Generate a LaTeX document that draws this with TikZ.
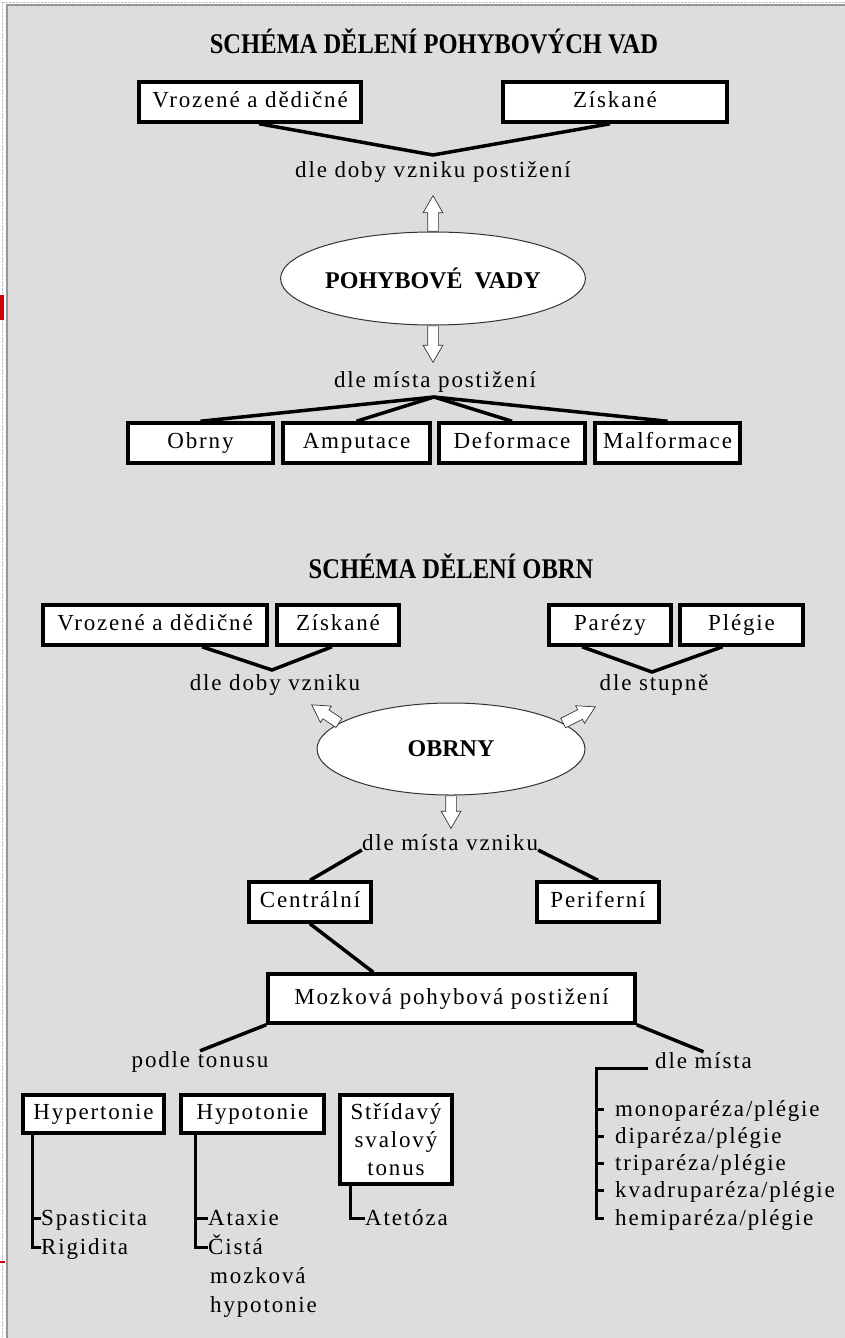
\documentclass[tikz,border=0pt]{standalone}
\usepackage{fontspec}
\setmainfont[LetterSpace=8]{Liberation Serif}
\newfontfamily\headfont{Liberation Serif}
\newfontfamily\titlefont[FakeStretch=0.86]{Liberation Serif}
\usetikzlibrary{calc,shapes.geometric,shapes.arrows}

\definecolor{panel}{RGB}{221,221,221}
\definecolor{frame}{RGB}{150,150,150}

\newcommand{\hollowarrow}[2]{%
    \path let \p1=($(#2)-(#1)$) in (#1)
        node[hollow, rotate={atan2(\y1,\x1)}, minimum height={veclen(\x1,\y1)}, anchor=tail] {};%
}

\begin{document}
\begin{tikzpicture}[x=1pt, y=-1pt, font=\fontsize{23}{28}\selectfont,
    box/.style={draw, line width=3.5pt, fill=white, inner sep=0pt, text height=16pt, text depth=5pt},
    tallbox/.style={draw, line width=3.5pt, fill=white, inner sep=0pt, align=center},
    blob/.style={ellipse, draw=black!80, line width=1pt, fill=white, inner sep=0pt,
        font=\headfont\bfseries\fontsize{24}{28}\selectfont},
    caption/.style={inner sep=0pt, anchor=base},
    title/.style={inner sep=0pt, anchor=base, font=\titlefont\bfseries\fontsize{28.5}{30}\selectfont},
    leaf/.style={inner sep=0pt, anchor=west, text height=17pt, text depth=3pt},
    link/.style={line width=3.5pt},
    stem/.style={line width=3pt},
    hollow/.style={single arrow, draw=black!80, fill=white, line width=0.7pt, inner sep=0pt,
        text height=10pt, text depth=0pt, text width=0pt,
        minimum width=19pt, single arrow head extend=4.5pt, single arrow tip angle=60}]

    \useasboundingbox (0,0) rectangle (845,1338);
    \fill[white] (0,0) rectangle (845,1338);
    \fill[panel] (7,5) rectangle (845,1338);
    \draw[frame, line width=1.5pt] (7,1338) -- (7,5) -- (845,5);
    \draw[black!25, densely dotted] (2,1338) -- (2,2) -- (845,2);
    \fill[red!80!black] (0,295) rectangle (3.5,320);
    \fill[red!80!black] (0,1261) rectangle (5,1263);

    % pohybove vady
    \node[title] (titleA) at (434,53) {SCHÉMA DĚLENÍ POHYBOVÝCH VAD};
    \node[box, minimum width=222pt, minimum height=40pt] (vrozA) at (250,102) {Vrozené a dědičné};
    \node[box, minimum width=224pt, minimum height=40pt] (ziskA) at (615,102) {Získané};
    \coordinate (dobaV) at (433,155);
    \node[caption] (dobaA) at (433,177) {dle doby vzniku postižení};
    \node[blob, minimum width=268pt, minimum height=93pt] (pv) at (433,278.5) {POHYBOVÉ\ \ VADY};
    \coordinate (upA) at (433,196);
    \coordinate (downA) at (433,362);
    \node[caption] (mistaA) at (435,387) {dle místa postižení};
    \coordinate (fanA) at (434,397);
    \node[box, minimum width=145pt, minimum height=40pt] (obrnyA) at (200.5,443) {Obrny};
    \node[box, minimum width=147pt, minimum height=40pt] (amput) at (356.5,443) {Amputace};
    \node[box, minimum width=146pt, minimum height=40pt] (deform) at (512,443) {Deformace};
    \node[box, minimum width=145pt, minimum height=40pt] (malf) at (667.5,443) {Malformace};

    \draw[link] ([xshift=9pt]vrozA.south) -- (dobaV) -- ([xshift=-5pt]ziskA.south);
    \hollowarrow{pv.north}{upA}
    \hollowarrow{pv.south}{downA}
    \foreach \b in {obrnyA,amput,deform,malf}
        \draw[link] (fanA) -- (\b.north);

    % obrny
    \node[title] (titleB) at (451,578) {SCHÉMA DĚLENÍ OBRN};
    \node[box, minimum width=224pt, minimum height=40pt] (vrozB) at (155,625) {Vrozené a dědičné};
    \node[box, minimum width=122pt, minimum height=40pt] (ziskB) at (338,625) {Získané};
    \node[box, minimum width=122pt, minimum height=40pt] (parez) at (610,625) {Parézy};
    \node[box, minimum width=123pt, minimum height=40pt] (plegie) at (741.5,625) {Plégie};
    \coordinate (dobaVB) at (272,670);
    \coordinate (stupV) at (652,672);
    \node[caption] (dobaB) at (275,690) {dle doby vzniku};
    \node[caption] (stupen) at (654,690) {dle stupně};
    \node[blob, minimum width=268pt, minimum height=92pt] (obrny) at (451,749) {OBRNY};
    \coordinate (tipL) at (312,705);
    \coordinate (tipR) at (595,707);
    \coordinate (tipD) at (451,828);
    \node[caption] (mistaB) at (450,850) {dle místa vzniku};
    \node[box, minimum width=122pt, minimum height=40pt] (centr) at (310,902) {Centrální};
    \node[box, minimum width=122pt, minimum height=40pt] (perif) at (598,902) {Periferní};
    \node[box, minimum width=367pt, minimum height=49pt] (mozk) at (451.5,998.5) {Mozková pohybová postižení};
    \node[caption] (tonus) at (200,1067) {podle tonusu};
    \node[caption, anchor=base west] (dlemista) at (655,1068) {dle místa};

    \draw[link] ([xshift=47pt]vrozB.south) -- (dobaVB) -- ([xshift=-6pt]ziskB.south);
    \draw[link] ([xshift=-28pt]parez.south) -- (stupV) -- ([xshift=-19pt]plegie.south);
    \hollowarrow{obrny.167}{tipL}
    \hollowarrow{obrny.13}{tipR}
    \hollowarrow{obrny.south}{tipD}
    \draw[link] (mistaB.base west) -- (centr.north);
    \draw[link] (mistaB.base east) -- (perif.north);
    \draw[link] (centr.south) -- ([xshift=107pt]mozk.north west);
    \draw[link] (mozk.south west) -- (tonus.north);
    \draw[link] (mozk.south east) -- (dlemista.north);

    % podle tonusu
    \node[box, minimum width=141pt, minimum height=38pt] (hyper) at (93.5,1114) {Hypertonie};
    \node[box, minimum width=143pt, minimum height=38pt] (hypo) at (252.5,1114) {Hypotonie};
    \node[tallbox, minimum width=112pt, minimum height=89pt] (strid) at (396,1139.5) {Střídavý\\svalový\\tonus};
    \node[leaf] (spast) at (41,1218) {Spasticita};
    \node[leaf] (rigid) at (41,1247) {Rigidita};
    \node[leaf] (ataxie) at (208,1218) {Ataxie};
    \node[leaf] (cista) at (208,1247) {Čistá};
    \node[caption, anchor=base west] (mozkova) at (210,1283) {mozková};
    \node[caption, anchor=base west] (hypot) at (210,1312) {hypotonie};
    \node[leaf] (atet) at (365,1218) {Atetóza};

    \coordinate (hyperstem) at ([xshift=11pt]hyper.south west);
    \coordinate (hypostem) at ([xshift=16pt]hypo.south west);
    \coordinate (stridstem) at ([xshift=12pt]strid.south west);
    \draw[stem] (hyperstem) |- (rigid.west);
    \draw[stem] (hyperstem |- spast.west) -- (spast.west);
    \draw[stem] (hypostem) |- (cista.west);
    \draw[stem] (hypostem |- ataxie.west) -- (ataxie.west);
    \draw[stem] (stridstem) |- (atet.west);

    % dle mista
    \foreach \pre [count=\i] in {mono,di,tri,kvadru,hemi}
        \node[leaf] (site\i) at (615,{1109+27.25*(\i-1)}) {\pre paréza/plégie};
    \draw[stem] ([xshift=-7pt]dlemista.base west) -- ++(-52,0) coordinate (sitestem)
        |- ([xshift=-11pt]site5.west);
    \foreach \i in {1,...,4}
        \draw[stem] (sitestem |- site\i.west) -- ([xshift=-11pt]site\i.west);
\end{tikzpicture}
\end{document}
